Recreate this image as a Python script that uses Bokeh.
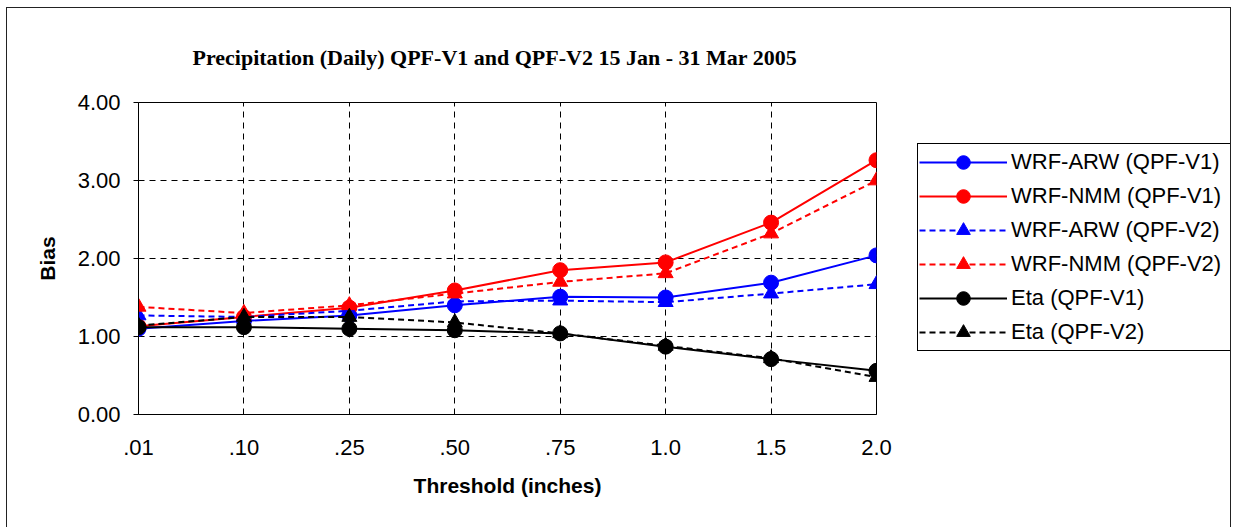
from bokeh.plotting import figure
from bokeh.layouts import row
from bokeh.models import (Range1d, FixedTicker, Legend, LegendItem,
                          NumeralTickFormatter)
from bokeh.embed import file_html
from bokeh.resources import INLINE

# Rainfall thresholds (inches) and frequency bias for each model / verification set
thresholds = [".01", ".10", ".25", ".50", ".75", "1.0", "1.5", "2.0"]
arw_v1 = [1.10, 1.20, 1.27, 1.40, 1.51, 1.50, 1.69, 2.04]
nmm_v1 = [1.13, 1.25, 1.37, 1.59, 1.85, 1.95, 2.46, 3.26]
arw_v2 = [1.27, 1.25, 1.33, 1.45, 1.46, 1.44, 1.55, 1.67]
nmm_v2 = [1.38, 1.30, 1.40, 1.55, 1.70, 1.81, 2.32, 3.00]
eta_v1 = [1.12, 1.12, 1.10, 1.08, 1.04, 0.87, 0.71, 0.56]
eta_v2 = [1.14, 1.25, 1.25, 1.18, 1.04, 0.88, 0.72, 0.48]
y_ticks = [0, 1, 2, 3, 4]

series = [
    ("WRF-ARW (QPF-V1)", arw_v1, "#0000FF", "solid", "circle"),
    ("WRF-NMM (QPF-V1)", nmm_v1, "#FF0000", "solid", "circle"),
    ("WRF-ARW (QPF-V2)", arw_v2, "#0000FF", "6 4", "triangle"),
    ("WRF-NMM (QPF-V2)", nmm_v2, "#FF0000", "6 4", "triangle"),
    ("Eta (QPF-V1)", eta_v1, "#000000", "solid", "circle"),
    ("Eta (QPF-V2)", eta_v2, "#000000", "6 4", "triangle"),
]

xs = list(range(len(thresholds)))

# ---- main chart ----
p = figure(width=910, height=520, output_backend="svg", toolbar_location=None,
           x_range=Range1d(0, len(thresholds) - 1), y_range=Range1d(0, 4),
           min_border_left=131, min_border_right=41,
           min_border_top=94, min_border_bottom=114)

p.background_fill_color = "white"
p.border_fill_color = "white"
p.outline_line_color = "black"
p.outline_line_width = 1
p.outline_line_alpha = 1

p.title.text = "Precipitation (Daily) QPF-V1 and QPF-V2 15 Jan - 31 Mar 2005"
p.title.text_font = "Liberation Serif"
p.title.text_font_size = "22px"
p.title.text_font_style = "bold"
p.title.text_color = "black"
p.title.align = "left"
p.title.offset = 54
p.title.standoff = 66

p.xgrid.ticker = FixedTicker(ticks=xs[1:-1])
p.ygrid.ticker = FixedTicker(ticks=y_ticks[1:-1])
for g in (p.xgrid, p.ygrid):
    g.grid_line_color = "black"
    g.grid_line_alpha = 1
    g.grid_line_width = 1
    g.grid_line_dash = "6 5"

p.xaxis.ticker = FixedTicker(ticks=xs)
p.xaxis.major_label_overrides = {i: t for i, t in enumerate(thresholds)}
p.yaxis.ticker = FixedTicker(ticks=y_ticks)
p.yaxis.formatter = NumeralTickFormatter(format="0.00")
for ax in (p.xaxis, p.yaxis):
    ax.axis_line_color = "black"
    ax.major_tick_line_color = "black"
    ax.minor_tick_line_color = None
    ax.major_label_text_font = "Liberation Sans"
    ax.major_label_text_font_size = "22px"
    ax.major_label_text_color = "black"
    ax.axis_label_text_font = "Liberation Sans"
    ax.axis_label_text_font_size = "21px"
    ax.axis_label_text_font_style = "bold"
    ax.axis_label_text_color = "black"
    ax.major_tick_in = 0
p.xaxis.major_tick_out = 0
p.yaxis.major_tick_out = 5
p.xaxis.major_label_standoff = 25
p.yaxis.major_label_standoff = 13
p.xaxis.axis_label = "Threshold (inches)"
p.yaxis.axis_label = "Bias"
p.xaxis.axis_label_standoff = 16
p.yaxis.axis_label_standoff = 16

for label, vals, color, dash, marker in series:
    p.line(xs, vals, line_color=color, line_width=2, line_dash=dash)
    p.scatter(xs, vals, marker=marker, size=15, fill_color=color, line_color=color)

# ---- legend panel (its own ranges sit away from the data, so only the key shows) ----
lg = figure(width=313, height=520, output_backend="svg", toolbar_location=None,
            x_axis_type=None, y_axis_type=None, min_border=0,
            x_range=Range1d(100, 101), y_range=Range1d(100, 101))
lg.outline_line_color = None
lg.grid.visible = False
lg.background_fill_color = "white"
lg.border_fill_color = "white"

items = []
for label, vals, color, dash, marker in series:
    ln = lg.line(xs, vals, line_color=color, line_width=2, line_dash=dash)
    sc = lg.scatter(xs, vals, marker=marker, size=15, fill_color=color, line_color=color)
    items.append(LegendItem(label=label, renderers=[ln, sc]))

legend = Legend(items=items, location=(0, 63))
legend.border_line_color = "black"
legend.border_line_width = 1
legend.border_line_alpha = 1
legend.background_fill_color = "white"
legend.background_fill_alpha = 1
legend.label_text_font = "Liberation Sans"
legend.label_text_font_size = "22px"
legend.label_text_color = "black"
legend.glyph_width = 88
legend.glyph_height = 34
legend.label_height = 34
legend.label_width = 219
legend.spacing = 0
legend.padding = 1
legend.label_standoff = 4
legend.margin = 0
lg.add_layout(legend)

layout = row(p, lg)
layout.styles = {"margin-left": "6px", "margin-top": "7px",
                 "border-left": "1px solid #222", "border-top": "1px solid #222",
                 "border-right": "1px solid #222"}

open("out.html", "w").write(file_html(layout, INLINE))
